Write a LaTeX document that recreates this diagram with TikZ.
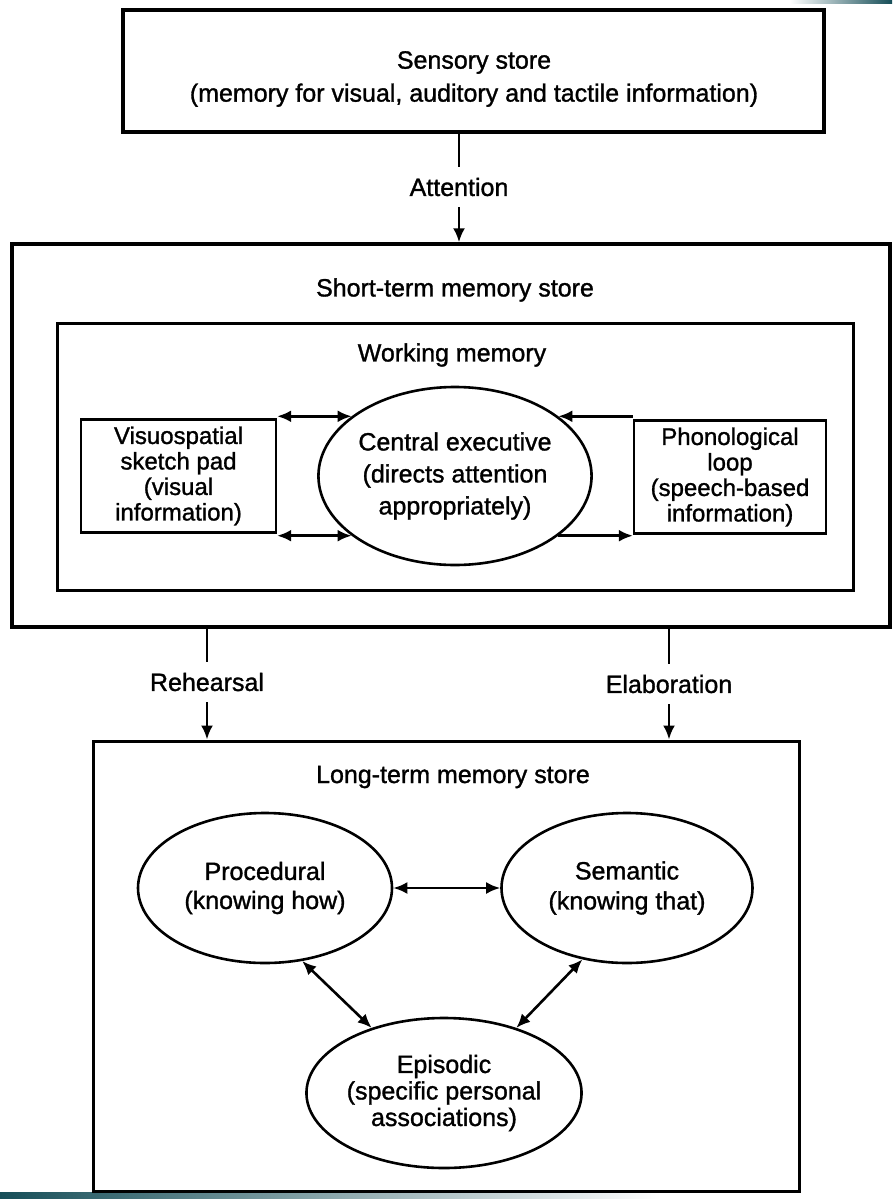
\documentclass[tikz,border=0pt]{standalone}
\usepackage{fontspec}
\setmainfont{Liberation Sans}[RawFeature={embolden=1.2}]
\usetikzlibrary{arrows.meta,shapes.geometric}
\definecolor{bandteal}{RGB}{22,78,88}
\begin{document}
\begin{tikzpicture}[x=1pt,y=-1pt,
  box/.style={draw, line width=2.8pt, inner sep=0pt},
  txt/.style={font=\fontsize{25}{33}\selectfont, align=center, inner sep=0pt},
  tight/.style={font=\fontsize{24}{25.5}\selectfont, align=center, inner sep=0pt},
  oval/.style={draw, ellipse, line width=2.6pt, inner sep=0pt, align=center, font=\fontsize{25}{32}\selectfont},
  conn/.style={line width=2.6pt},
  arr/.style={line width=2.6pt, -{Latex[length=14pt,width=12pt]}},
  darr/.style={line width=2.6pt, {Latex[length=14pt,width=12pt]}-{Latex[length=14pt,width=12pt]}}
]
\useasboundingbox (0,0) rectangle (892,1199);
\fill[white] (0,0) rectangle (892,1199);
% decorative bands of the slide
\shade[left color=bandteal, right color=white] (0,1192) rectangle (660,1199);
\shade[left color=white, right color=bandteal] (790,0) rectangle (892,4);

% Sensory store
\node[box, line width=3.8pt, minimum width=701pt, minimum height=122pt] (sens) at (473.5,71) {};
\node[txt] (senst) at (474,79) {Sensory store\\(memory for visual, auditory and tactile information)};

% Short-term memory store
\node[box, line width=3.4pt, minimum width=878pt, minimum height=383pt] (stm) at (451,435.5) {};
\node[txt] (stmt) at (455,290) {Short-term memory store};

% Attention
\node[txt, inner ysep=11pt] (att) at (459,187) {Attention};
\draw[conn] (att.north |- sens.south) -- (att.north);
\draw[arr] (att.south) -- (att.south |- stm.north);

% Working memory
\node[box, line width=3pt, minimum width=796pt, minimum height=267pt] (wm) at (455,456.5) {};
\node[txt] (wmt) at (452,355) {Working memory};

\node[oval, minimum width=254pt, minimum height=178pt] (ce) at (455,476) {Central executive\\(directs attention\\appropriately)};
\node[box, line width=2.4pt, minimum width=195pt, minimum height=113.2pt, tight] (vis) at (178.5,476) {Visuospatial\\sketch pad\\(visual\\information)};
\node[box, line width=2.4pt, minimum width=192pt, minimum height=113.2pt, tight] (pho) at (730,477) {Phonological\\loop\\(speech-based\\information)};

\draw[darr] (ce.150 -| vis.east) -- (ce.150);
\draw[darr] (ce.210 -| vis.east) -- (ce.210);
\draw[arr] (ce.30 -| pho.west) -- (ce.30);
\draw[arr] (ce.330) -- (ce.330 -| pho.west);

% Long-term memory store
\node[box, line width=3pt, minimum width=706pt, minimum height=450pt] (ltm) at (446,966) {};
\node[txt] (ltmt) at (453,777) {Long-term memory store};

\node[txt, inner ysep=11pt] (reh) at (207,682) {Rehearsal};
\draw[conn] (reh.north |- stm.south) -- (reh.north);
\draw[arr] (reh.south) -- (reh.south |- ltm.north);

\node[txt, inner ysep=11pt] (ela) at (669,684) {Elaboration};
\draw[conn] (ela.north |- stm.south) -- (ela.north);
\draw[arr] (ela.south) -- (ela.south |- ltm.north);

\node[oval, minimum width=254pt, minimum height=150pt, font=\fontsize{25}{29}\selectfont] (proc) at (265,888) {Procedural\\(knowing how)};
\node[oval, minimum width=251pt, minimum height=150pt, font=\fontsize{25}{30}\selectfont] (sem) at (627,888) {Semantic\\(knowing that)};
\node[oval, minimum width=245pt, minimum height=150pt, font=\fontsize{25}{26.5}\selectfont] (epi) at (444,1093) {Episodic\\(specific personal\\associations)};

\draw[darr] (proc.east) -- (sem.west);
\draw[darr] (proc.-63) -- (epi.138);
\draw[darr] (sem.-122) -- (epi.42);
\end{tikzpicture}
\end{document}
